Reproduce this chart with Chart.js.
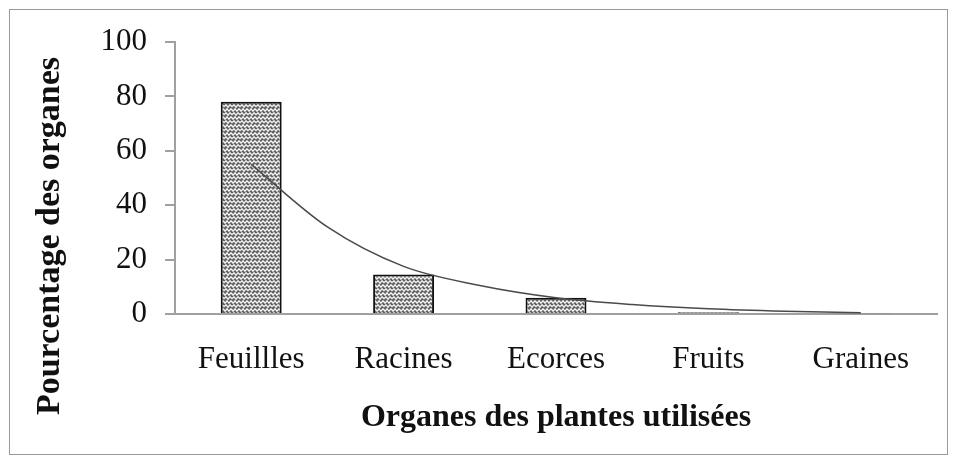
<!DOCTYPE html>
<html>
<head>
<meta charset="utf-8">
<script src="https://cdn.jsdelivr.net/npm/chart.js@4/dist/chart.umd.min.js"></script>
<style>
  body { margin: 0; background: #fff; }
  #wrap { position: relative; width: 956px; height: 464px; }
  #frame { position: absolute; left: 9px; top: 9px; width: 937px; height: 444px; border: 1px solid #9a9a9a; }
  canvas { position: absolute; left: 0; top: 0; }
</style>
</head>
<body>
<div id="wrap">
  <div id="frame"></div>
  <canvas id="chart" width="956" height="464"></canvas>
</div>
<script>
// data
const organes = ['Feuillles', 'Racines', 'Ecorces', 'Fruits', 'Graines'];
const pourcentages = [78, 14.5, 6, 0.6, 0.3];
// exponential trendline (x = category position, 1..5)
const tendanceX = [1, 1.5, 2, 2.5, 3, 3.5, 4, 4.5, 5];
const tendanceY = [55, 32, 17.5, 10.5, 6, 3.5, 1.9, 1, 0.5];
const yTicks = [0, 20, 40, 60, 80, 100];
const yTitle = 'Pourcentage des organes';

// hatched fill like the original (herringbone zigzag on grey)
function makeHatch() {
    const c = document.createElement('canvas');
    c.width = 8; c.height = 8;
    const g = c.getContext('2d');
    g.fillStyle = '#606060';
    g.fillRect(0, 0, 8, 8);
    g.strokeStyle = '#f4f4f4';
    g.lineWidth = 1.3;
    g.beginPath();
    g.moveTo(-0.5, 3.2); g.lineTo(2, 0.8); g.lineTo(4, 3.2); g.lineTo(6, 0.8); g.lineTo(8.5, 3.2);
    g.moveTo(-0.5, 5.2); g.lineTo(1, 7.2); g.lineTo(3, 4.8); g.lineTo(5, 7.2); g.lineTo(7, 4.8); g.lineTo(8.5, 6.6);
    g.stroke();
    return g.createPattern(c, 'repeat');
}

const serif = '"Liberation Serif", "Times New Roman", serif';

// y title sits centred on the whole frame, not on the axis
const yTitlePlugin = {
    id: 'yTitle',
    afterDraw(chart) {
        const c = chart.ctx;
        c.save();
        c.translate(50, 236);
        c.rotate(-Math.PI / 2);
        c.font = 'bold 34px ' + serif;
        c.fillStyle = '#111';
        c.textAlign = 'center';
        c.textBaseline = 'middle';
        c.fillText(yTitle, 0, 0);
        c.restore();
    }
};

document.addEventListener('DOMContentLoaded', function() {
    const ctx = document.getElementById('chart');
    new Chart(ctx, {
        data: {
            labels: organes,
            datasets: [{
                type: 'line',
                xAxisID: 'xt',
                data: tendanceX.map((x, i) => ({ x: x, y: tendanceY[i] })),
                borderColor: '#4a4a4a',
                borderWidth: 1.5,
                pointRadius: 0,
                cubicInterpolationMode: 'monotone',
                order: 0
            }, {
                type: 'bar',
                data: pourcentages,
                grouped: false,
                backgroundColor: makeHatch(),
                borderColor: '#111',
                borderWidth: 2,
                barPercentage: 0.4,
                categoryPercentage: 1,
                order: 1
            }]
        },
        options: {
            responsive: false,
            animation: false,
            layout: { padding: { top: 42, right: 19, left: 0, bottom: 0 } },
            plugins: { legend: { display: false }, tooltip: { enabled: false } },
            scales: {
                x: {
                    offset: true,
                    grid: { display: false, drawTicks: false },
                    border: { color: '#a0a0a0', width: 2 },
                    ticks: { color: '#111', padding: 27, font: { family: serif, size: 31 } },
                    title: {
                        display: true,
                        text: 'Organes des plantes utilisées',
                        color: '#111',
                        font: { family: serif, size: 32, weight: 'bold' },
                        padding: { top: 0, bottom: 27 }
                    },
                    afterFit: function(s) { s.height = 150; }
                },
                xt: {
                    type: 'linear',
                    display: false,
                    min: 0.5,
                    max: 5.5
                },
                y: {
                    min: 0,
                    max: 100,
                    grid: { drawOnChartArea: false, drawTicks: true, tickLength: 10, color: '#a0a0a0', lineWidth: 2 },
                    border: { color: '#a0a0a0', width: 2 },
                    afterBuildTicks: function(s) { s.ticks = yTicks.map(v => ({ value: v })); },
                    ticks: { color: '#111', padding: 18, font: { family: serif, size: 31 } },
                    afterFit: function(s) { s.width = 175; }
                }
            }
        },
        plugins: [yTitlePlugin]
    });
});
</script>
</body>
</html>
